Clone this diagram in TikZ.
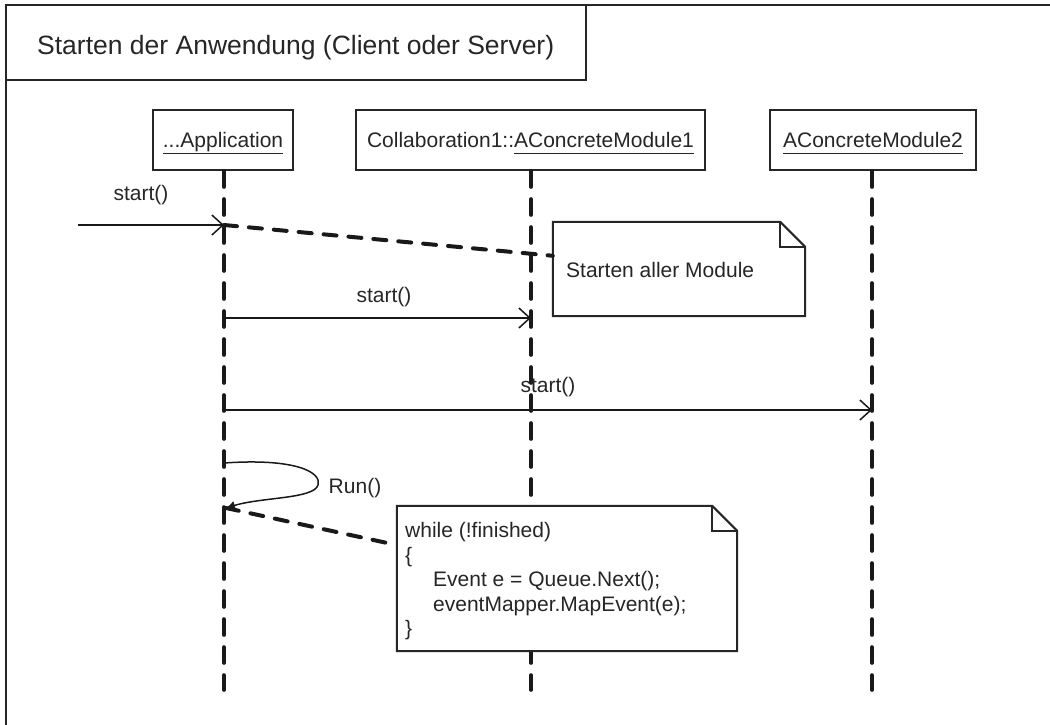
\documentclass[tikz,border=0pt]{standalone}
\usepackage{fontspec}
\setmainfont{Liberation Sans}
\usetikzlibrary{arrows.meta,calc}

% underlined object name with a uniform underline depth
\newcommand\ulname[1]{\underline{#1\vphantom{p}}}

% outline of a UML note with a folded top-right corner
\newcommand\notefold[1]{%
  \draw[noteline] (#1.north west) -- ($(#1.north east)+(-25,0)$)
    -- ($(#1.north east)+(0,25)$) -- (#1.south east) -- (#1.south west) -- cycle;
  \draw[noteline] ($(#1.north east)+(-25,0)$) |- ($(#1.north east)+(0,25)$);}

\begin{document}
\begin{tikzpicture}[x=1pt,y=-1pt,
  every node/.style={font=\fontsize{21}{24.5}\selectfont, inner sep=0pt, text=black!85},
  frameline/.style={line width=2pt, draw=black!85},
  headbox/.style={draw=black!85, line width=2pt, fill=white, minimum height=60pt,
                  text height=15pt, text depth=0pt},
  lifeline/.style={line width=3.6pt, draw=black!90, line cap=round, dash pattern=on 16pt off 12pt},
  anchorline/.style={line width=4pt, draw=black!90, line cap=round, dash pattern=on 13pt off 12pt},
  msg/.style={line width=1.5pt, draw=black!90, -{Straight Barb[length=11pt,width=20pt,line width=1.5pt]}},
  selfmsg/.style={line width=1.5pt, draw=black!90, -{Latex[length=9pt,width=9pt]}},
  notebox/.style={fill=white, draw=none},
  noteline/.style={line width=2pt, draw=black!85, line join=miter},
  label/.style={anchor=base}
]
\useasboundingbox (0,0) rectangle (1050,724);
\clip (0,0) rectangle (1050,724);

% outer frame and its title compartment
\draw[frameline] (6,5) rectangle (1070,760);
\node[draw=black!85, line width=2pt, minimum width=580pt, minimum height=75pt] (titlebox) at (296,42.5) {};
\node[anchor=base west, font=\fontsize{26.5}{30}\selectfont] (titletext) at (37,54) {Starten der Anwendung (Client oder Server)};

% lifeline heads
\node[headbox, minimum width=140pt] (app) at (223,140) {\ulname{...Application}};
\node[headbox, minimum width=349pt] (mod1) at (530.5,140) {Collaboration1::\ulname{AConcreteModule1}};
\node[headbox, minimum width=206pt] (mod2) at (873,140) {\ulname{AConcreteModule2}};

% lifeline ends
\coordinate (append) at (224,690);
\coordinate (mod1end) at (531,690);
\coordinate (mod2end) at (872,690);

\draw[lifeline] (app.south -| append) -- (append);
\draw[lifeline] (mod1.south -| mod1end) -- (mod1end);
\draw[lifeline] (mod2.south -| mod2end) -- (mod2end);

% message anchor points
\coordinate (found) at (78,225);
\coordinate (m1) at (224,225);
\coordinate (m2a) at (224,318);
\coordinate (m2b) at (531,318);
\coordinate (m3a) at (224,410);
\coordinate (m3b) at (872,410);
\coordinate (r0) at (224,463);
\coordinate (r1) at (226,508);

% notes
\node[notebox, minimum width=252pt, minimum height=94pt] (note1) at (679,269) {};
\notefold{note1}
\node[anchor=base west] (note1text) at (566,277.5) {Starten aller Module};

\node[notebox, minimum width=340pt, minimum height=145pt] (note2) at (567,578.5) {};
\notefold{note2}
\node[anchor=base west] (code1) at (405,537.5) {while (!finished)};
\node[anchor=base west] (code2) at (405,562) {\{};
\node[anchor=base west] (code3) at (433,586.5) {Event e = Queue.Next();};
\node[anchor=base west] (code4) at (433,611) {eventMapper.MapEvent(e);};
\node[anchor=base west] (code5) at (405,635.5) {\}};

% note attachments
\draw[anchorline] (m1) -- ($(note1.north west)!0.36!(note1.south west)$);
\draw[anchorline] (r1) -- ($(note2.north west)!0.27!(note2.south west)$);

% messages
\draw[msg] (found) -- (m1);
\node[label] (lbl1) at (141,200.5) {start()};
\draw[msg] (m2a) -- (m2b);
\node[label] (lbl2) at (384,302.5) {start()};
\draw[msg] (m3a) -- (m3b);
\node[label] (lbl3) at (548,392.5) {start()};

% self call
\draw[selfmsg] (r0) .. controls (295,458) and (322,472) .. (318,485)
               .. controls (314,499) and (262,497) .. (r1);
\node[label] (lbl4) at (355,493.5) {Run()};
\end{tikzpicture}
\end{document}
